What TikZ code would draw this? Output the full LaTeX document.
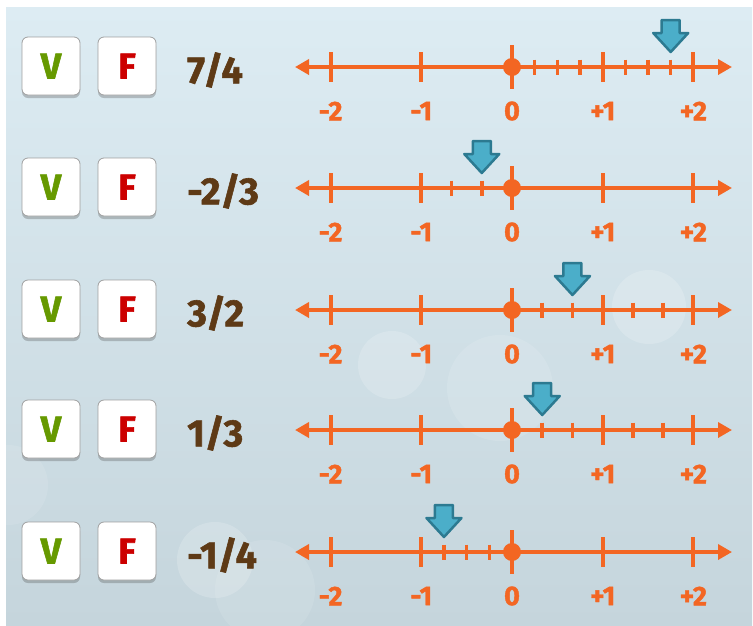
\documentclass[tikz,border=0pt]{standalone}
\usepackage{fontspec}
\setmainfont{Fira Sans}
\newfontfamily\heavyfont{Fira Sans}[BoldFeatures={FakeBold=1.5}]
\usepackage{tikz}
\usetikzlibrary{arrows.meta,shadows}
\definecolor{bgTop}{RGB}{221,236,243}
\definecolor{bgBottom}{RGB}{197,213,220}
\definecolor{lineOrange}{RGB}{243,102,35}
\definecolor{ptrFill}{RGB}{75,174,201}
\definecolor{ptrBorder}{RGB}{44,122,145}
\definecolor{fracBrown}{RGB}{94,58,22}
\definecolor{vGreen}{RGB}{102,153,0}
\definecolor{fRed}{RGB}{204,0,0}
\definecolor{boxGray}{RGB}{160,160,160}
\tikzset{
  tfbox/.style={rectangle,draw=boxGray,fill=white,rounded corners=6pt,
    minimum size=58pt,inner sep=0pt,line width=0.8pt,
    drop shadow={shadow xshift=0pt,shadow yshift=-3pt,opacity=0.3,fill=black!70},
    font=\fontsize{36}{36}\selectfont\heavyfont\bfseries},
  fraclabel/.style={anchor=west,inner sep=0pt,text=fracBrown,
    font=\fontsize{38}{38}\selectfont\heavyfont\bfseries},
  numline/.style={draw=lineOrange,line width=4pt,
    {Triangle[length=14pt,width=15pt]}-{Triangle[length=14pt,width=15pt]}},
  bigtick/.style={draw=lineOrange,line width=4pt},
  smalltick/.style={draw=lineOrange,line width=3.5pt},
  zerodot/.style={circle,fill=lineOrange,minimum size=18pt,inner sep=0pt},
  ticklabel/.style={text=lineOrange,inner sep=0pt,
    font=\fontsize{27}{27}\selectfont\heavyfont\bfseries},
  pointer/.style={fill=ptrFill,draw=ptrBorder,line width=2.5pt,line join=round},
  bokeh/.style={fill=white,opacity=0.18}
}
\begin{document}
\begin{tikzpicture}[x=1pt,y=-1pt]
  \useasboundingbox (0,0) rectangle (753,625);
  % background
  \shade[top color=bgTop,bottom color=bgBottom] (6,7) rectangle (752,625);
  \fill[bokeh] (649,307) circle[radius=37pt];
  \fill[bokeh] (392,365) circle[radius=34pt];
  \fill[bokeh,opacity=0.12] (500,388) circle[radius=53pt];
  \fill[bokeh] (215,560) circle[radius=38pt];
  \fill[bokeh,opacity=0.1] (265,590) circle[radius=50pt];
  \fill[bokeh,opacity=0.1] (8,485) circle[radius=40pt];
  % rows: y / fraction / minor ticks from / to / denominator / pointer
  \foreach \ry/\frc/\tlo/\thi/\den/\pk [count=\i] in
      {67/{7/4}/1/7/4/7, 188/{-2/3}/-2/-1/3/-1, 310/{3/2}/1/5/3/2,
       430/{1/3}/1/5/3/1, 552/{-1/4}/-3/-1/4/-3}{
    \node[tfbox,text=vGreen] (v\i) at (51,\ry-1) {V};
    \node[tfbox,text=fRed] (f\i) at (127,\ry-1) {F};
    \node[fraclabel] (q\i) at (187,\ry+3) {\frc};
    \coordinate (l\i) at (295,\ry);
    \coordinate (r\i) at (732,\ry);
    \draw[numline] (l\i) -- (r\i);
    \foreach \k in {\tlo,...,\thi}
      \draw[smalltick] ({512+90.7*\k/\den},\ry-7.5) -- ({512+90.7*\k/\den},\ry+7.5);
    \foreach \t/\lab in {-2/-2,-1/-1,1/+1,2/+2}{
      \draw[bigtick] ({512+90.7*\t},\ry-15) -- ({512+90.7*\t},\ry+15);
      \node[ticklabel] at ({512+90.7*\t},\ry+44) {\lab};
    }
    \draw[bigtick] (512,\ry-22) -- (512,\ry+22);
    \node[zerodot] (z\i) at (512,\ry) {};
    \node[ticklabel] at (512,\ry+44) {0};
    \pgfmathsetmacro\px{512+90.7*\pk/\den}
    \draw[pointer] (\px-9,\ry-47) -- (\px+9,\ry-47) -- (\px+9,\ry-34)
      -- (\px+17.5,\ry-34) -- (\px,\ry-15) -- (\px-17.5,\ry-34)
      -- (\px-9,\ry-34) -- cycle;
  }
\end{tikzpicture}
\end{document}
